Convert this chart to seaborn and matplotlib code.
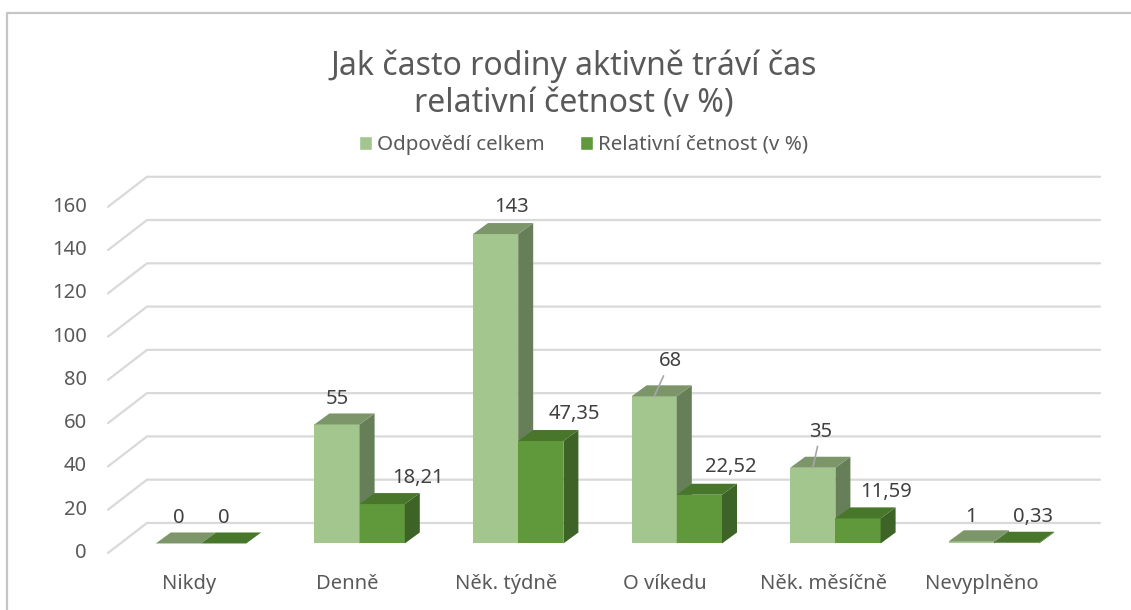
import matplotlib
matplotlib.use("Agg")
import matplotlib.pyplot as plt
from matplotlib.lines import Line2D
from matplotlib.patches import Patch, Polygon
import seaborn as sns
import pandas as pd

# data
categories = ["Nikdy", "Denně", "Něk. týdně", "O víkedu", "Něk. měsíčně", "Nevyplněno"]
series_names = ["Odpovědí celkem", "Relativní četnost (v %)"]
odpovedi = [0, 55, 143, 68, 35, 1]
relativni = [0, 18.21, 47.35, 22.52, 11.59, 0.33]
yticks = [0, 20, 40, 60, 80, 100, 120, 140, 160]
title = "Jak často rodiny aktivně tráví čas\nrelativní četnost (v %)"

# colours: front, top, side
LIGHT = ("#A3C58E", "#7C9669", "#667F58")
DARK = ("#5F993B", "#48772C", "#3D6327")
GRID = "#D9D9D9"
TXT = "#595959"
LBL = "#404040"

# label placement (pixels relative to top front centre of each bar)
light_off = [(0, 25), (0, 25), (16, 27), (16, 35), (8, 36), (0, 24)]
dark_off = [(0, 25), (36, 26), (34, 27), (31, 28), (28, 26), (16, 26)]
leader = [False, False, False, True, True, False]

df = pd.DataFrame({
    "kategorie": categories * 2,
    "serie": [series_names[0]] * len(categories) + [series_names[1]] * len(categories),
    "hodnota": odpovedi + relativni,
})

sns.set_theme(style="white")
plt.rcParams["font.family"] = ["Noto Sans", "DejaVu Sans"]

W, H = 1131, 610
fig = plt.figure(figsize=(W / 100, H / 100), dpi=100)
ax = fig.add_axes([121.7 / W, 1 - 565.1 / H, 951.6 / W, 411.1 / H])

sns.barplot(data=df, x="kategorie", y="hodnota", hue="serie",
            palette=[LIGHT[0], DARK[0]], width=0.57, saturation=1,
            linewidth=0, ax=ax, legend=False)
ax.set_xlim(-0.5, 5.5)
ax.set_ylim(-10, 180)
ax.axis("off")

# pixels per data unit
sx = 951.6 / 6
sy = 411.1 / 190
DX, DY = 15 / sx, 11 / sy

# back wall grid + y labels
for v in yticks:
    fx, fy = -0.5 - 13.7 / sx, v - 9.5 / sy
    bx, by = -0.5 + 25.3 / sx, v + 20.5 / sy
    ex = 5.5 + 26.7 / sx
    ax.plot([fx, bx, ex], [fy, by, by], color=GRID, lw=1.6, zorder=0.5,
            clip_on=False, solid_joinstyle="miter")
    ax.text(-0.5 - 34.7 / sx, fy, str(v), ha="right", va="center",
            fontsize=14.5, color=TXT)

# 3D faces
for j, (cont, cols) in enumerate(zip(ax.containers, [LIGHT, DARK])):
    for bar in cont:
        x0, w, h = bar.get_x(), bar.get_width(), bar.get_height()
        bar.set_zorder(2 + j)
        bar.set_clip_on(False)
        side = Polygon([(x0 + w, 0), (x0 + w + DX, DY), (x0 + w + DX, h + DY), (x0 + w, h)],
                       closed=True, fc=cols[2], lw=0, zorder=2 + j, clip_on=False)
        top = Polygon([(x0, h), (x0 + DX, h + DY), (x0 + w + DX, h + DY), (x0 + w, h)],
                      closed=True, fc=cols[1], lw=0, zorder=2 + j, clip_on=False)
        ax.add_patch(side)
        ax.add_patch(top)


def fmt(v):
    return f"{v:g}".replace(".", ",")


for j, (cont, vals, offs) in enumerate(zip(ax.containers, [odpovedi, relativni],
                                             [light_off, dark_off])):
    for bar, v, (ox, oy), ln in zip(cont, vals, offs, leader):
        xc = bar.get_x() + bar.get_width() / 2
        arrow = None
        if ln and j == 0:
            arrow = dict(arrowstyle="-", color="#A6A6A6", lw=1.2, shrinkA=1, shrinkB=0)
        ax.annotate(fmt(v), xy=(xc, v), xytext=(ox, oy), textcoords="offset pixels",
                    ha="center", va="center", fontsize=14.5, color=LBL,
                    arrowprops=arrow, zorder=6, annotation_clip=False)

# category labels
for i, cat in enumerate(categories):
    ax.text(i - 12 / sx, -40.5 / sy, cat, ha="center", va="center",
            fontsize=14.5, color=TXT, clip_on=False)

fig.text(0.507, 1 - 85 / H, title, ha="center", va="center",
         fontsize=23, fontweight="light", color=TXT, linespacing=1.2)

fig.legend(handles=[Patch(fc=LIGHT[0]), Patch(fc=DARK[0])], labels=series_names,
           loc="center", bbox_to_anchor=(0.516, 1 - 145 / H), ncol=2, frameon=False,
           fontsize=14.8, handlelength=0.65, handleheight=0.65, handletextpad=0.25,
           columnspacing=1.7, labelcolor=TXT)

fig.add_artist(Line2D([7 / W, 7 / W, 1], [0, 1 - 13 / H, 1 - 13 / H],
                      transform=fig.transFigure, color="#C6C6C6", lw=1.6))

fig.savefig("out.png", dpi=100)
